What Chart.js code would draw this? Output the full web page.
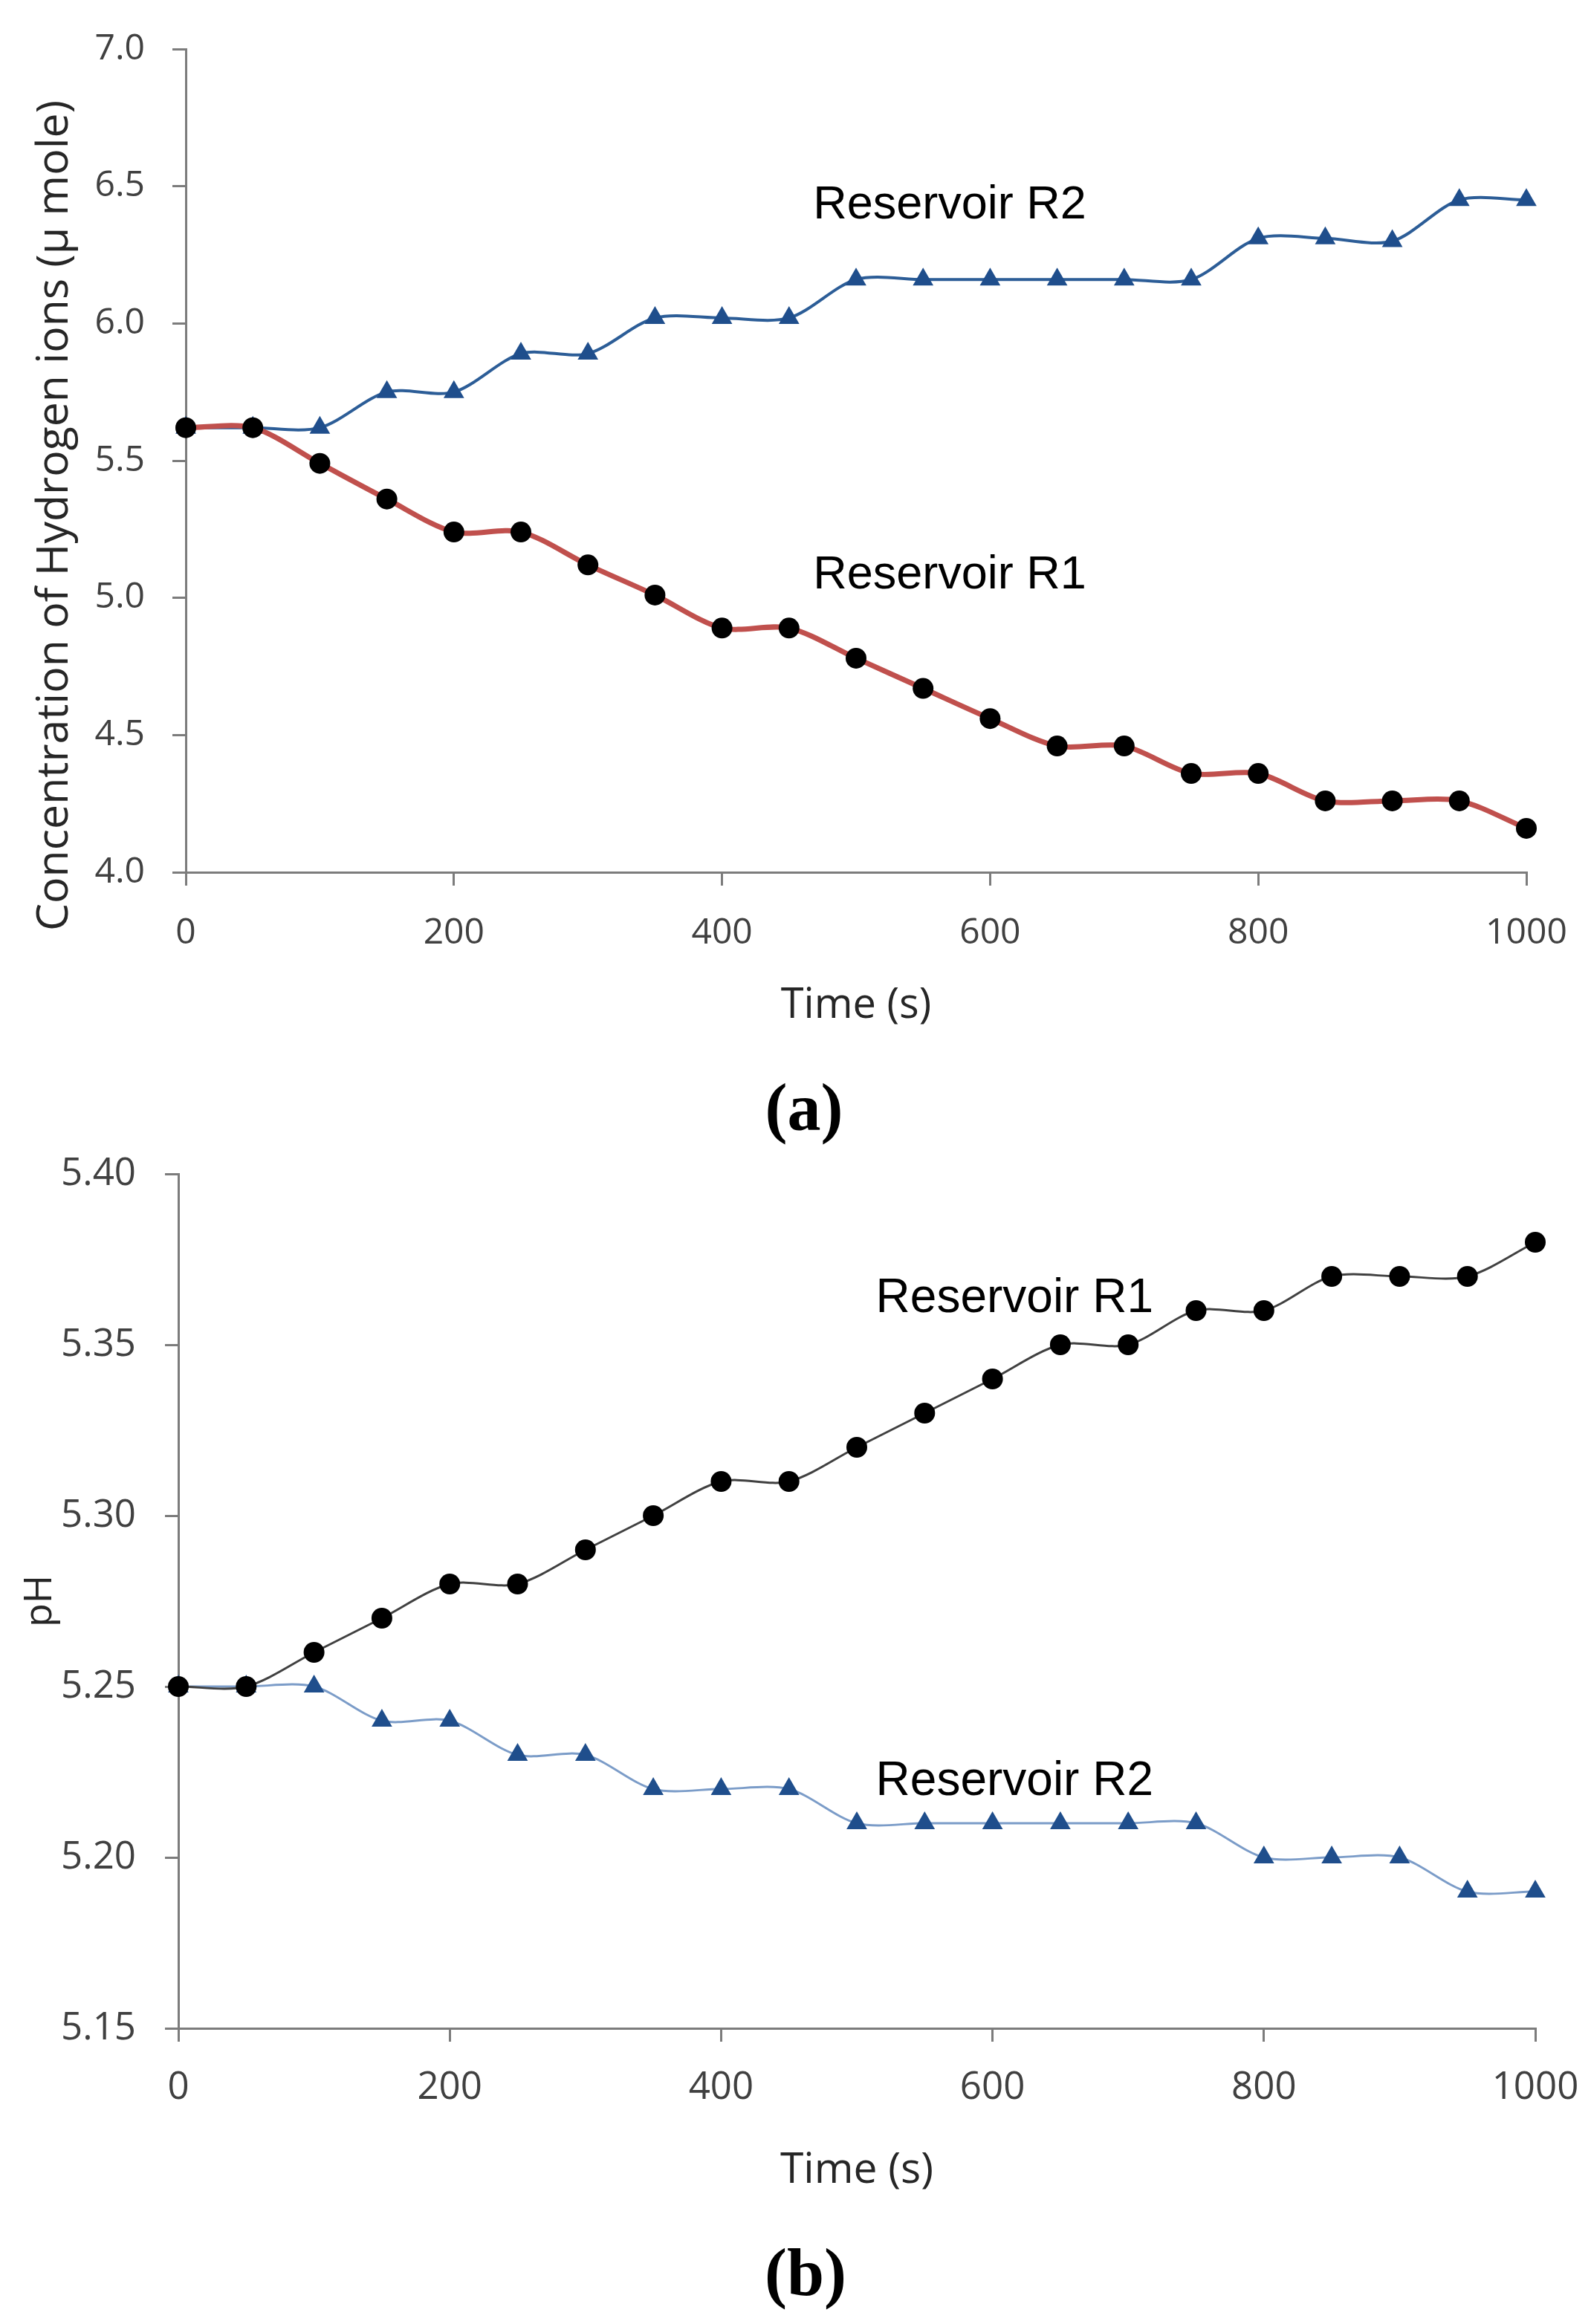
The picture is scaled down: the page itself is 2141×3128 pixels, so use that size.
<!DOCTYPE html>
<html>
<head>
<meta charset="utf-8">
<script src="https://cdn.jsdelivr.net/npm/chart.js@4/dist/chart.umd.min.js"></script>
<style>
  html, body { margin: 0; padding: 0; background: #fff; }
  body { width: 2141px; height: 3128px; position: relative; }
  canvas { position: absolute; left: 0; }
  #chartA { top: 0; }
  #chartB { top: 1440px; }
  .panel {
    position: absolute; width: 240px; margin-left: -120px; text-align: center;
    font: bold 90px "Liberation Serif", "Times New Roman", serif; line-height: 1; color: #000;
  }
</style>
</head>
<body>
<canvas id="chartA" width="2141" height="1420"></canvas>
<canvas id="chartB" width="2141" height="1560"></canvas>
<div class="panel" style="left:1082px; top:1446px">(a)</div>
<div class="panel" style="left:1084px; top:3014px">(b)</div>

<script>
// time of each sample (s)
const times = [0, 50, 100, 150, 200, 250, 300, 350, 400, 450, 500,
               550, 600, 650, 700, 750, 800, 850, 900, 950, 1000];

// (a) hydrogen ion concentration, micro mole
const hydR1 = [5.62, 5.62, 5.49, 5.36, 5.24, 5.24, 5.12, 5.01, 4.89, 4.89, 4.78,
               4.67, 4.56, 4.46, 4.46, 4.36, 4.36, 4.26, 4.26, 4.26, 4.16];
const hydR2 = [5.62, 5.62, 5.62, 5.75, 5.75, 5.89, 5.89, 6.02, 6.02, 6.02, 6.16,
               6.16, 6.16, 6.16, 6.16, 6.16, 6.31, 6.31, 6.30, 6.45, 6.45];

// (b) pH
const phR1 = [5.25, 5.25, 5.26, 5.27, 5.28, 5.28, 5.29, 5.30, 5.31, 5.31, 5.32,
              5.33, 5.34, 5.35, 5.35, 5.36, 5.36, 5.37, 5.37, 5.37, 5.38];
const phR2 = [5.25, 5.25, 5.25, 5.24, 5.24, 5.23, 5.23, 5.22, 5.22, 5.22, 5.21,
              5.21, 5.21, 5.21, 5.21, 5.21, 5.20, 5.20, 5.20, 5.19, 5.19];

const seriesNames = ['Reservoir R1', 'Reservoir R2'];

const FONT = '"Open Sans", "DejaVu Sans", sans-serif';
const AXIS = '#7c7c7c';
const pts = vals => vals.map((v, i) => ({ x: times[i], y: v }));

// in-chart labels and a free y title
const notes = {
  id: 'notes',
  afterDatasetsDraw(chart, args, opts) {
    const { ctx, scales: { x, y } } = chart;
    ctx.save();
    ctx.fillStyle = '#000';
    ctx.font = opts.font;
    ctx.textAlign = 'left';
    ctx.textBaseline = 'middle';
    (opts.items || []).forEach(n => {
      ctx.fillText(n.text, x.getPixelForValue(n.x), y.getPixelForValue(n.y));
    });
    if (opts.yTitle) {
      const t = opts.yTitle;
      ctx.translate(t.x, t.y);
      ctx.rotate(-Math.PI / 2);
      ctx.textAlign = 'center';
      ctx.fillStyle = '#262626';
      ctx.font = t.font;
      ctx.fillText(t.text, 0, 0);
    }
    ctx.restore();
  }
};

// fixed axis boxes, no extra room for overhanging end labels
function axisBase(size, width) {
  return {
    border: { display: true, color: AXIS, width: 3 },
    grid: { drawOnChartArea: false, color: AXIS, lineWidth: 3, tickLength: 18 },
    afterFit: s => {
      if (s.isHorizontal()) { s.height = size; s.paddingLeft = 0; s.paddingRight = 0; }
      else { s.width = width; s.paddingTop = 0; s.paddingBottom = 0; }
    }
  };
}

function makeChart(id, o) {
  return new Chart(document.getElementById(id), {
    type: 'line',
    data: {
      datasets: [
        {
          label: seriesNames[0],
          data: pts(o.r1),
          borderColor: o.r1Line,
          borderWidth: o.r1Width,
          backgroundColor: '#000',
          pointBackgroundColor: '#000',
          pointBorderColor: '#000',
          pointStyle: 'circle',
          pointRadius: 14,
          pointBorderWidth: 0,
          tension: 0.3,
          clip: false
        },
        {
          label: seriesNames[1],
          data: pts(o.r2),
          borderColor: o.r2Line,
          borderWidth: o.r2Width,
          backgroundColor: '#1f4e8c',
          pointBackgroundColor: '#1f4e8c',
          pointBorderColor: '#1f4e8c',
          pointStyle: 'triangle',
          pointRadius: 16,
          pointBorderWidth: 0,
          tension: 0.3,
          clip: false
        }
      ]
    },
    options: {
      responsive: false,
      devicePixelRatio: 1,
      animation: false,
      layout: { padding: o.padding },
      plugins: {
        legend: { display: false },
        tooltip: { enabled: false },
        notes: { font: o.noteFont, items: o.notes, yTitle: o.yTitle }
      },
      scales: {
        x: Object.assign(axisBase(o.xHeight, 0), {
          type: 'linear', min: 0, max: 1000,
          ticks: { stepSize: 200, padding: o.xTickPad, color: '#404040',
                   font: { family: FONT, size: o.tickSize },
                   callback: v => String(v) },
          title: { display: true, text: 'Time (s)', color: '#262626',
                   padding: { top: 0, bottom: o.xTitlePad },
                   font: { family: FONT, size: o.titleSize } }
        }),
        y: Object.assign(axisBase(0, o.yWidth), {
          min: o.yMin, max: o.yMax,
          ticks: { stepSize: o.yStep, padding: o.yTickPad, color: '#404040',
                   font: { family: FONT, size: o.tickSize },
                   callback: v => Number(v).toFixed(o.dec) },
          title: o.yTitleAxis || { display: false }
        })
      }
    },
    plugins: [notes]
  });
}

makeChart('chartA', {
  r1: hydR1, r2: hydR2,
  r1Line: '#c0504d', r1Width: 7,
  r2Line: '#2c5d97', r2Width: 4,
  padding: { top: 66, right: 87, left: 0, bottom: 0 },
  xHeight: 246, yWidth: 250,
  yMin: 4, yMax: 7, yStep: 0.5, dec: 1,
  tickSize: 48, titleSize: 56,
  xTickPad: 36, yTickPad: 37, xTitlePad: 32,
  noteFont: '63px "Liberation Sans", Arial, sans-serif',
  notes: [
    { text: seriesNames[1], x: 468, y: 6.43 },
    { text: seriesNames[0], x: 468, y: 5.08 }
  ],
  yTitle: { text: 'Concentration of Hydrogen ions (\u00b5 mole)', x: 74, y: 694,
            font: '59px ' + FONT }
});

makeChart('chartB', {
  r1: phR1, r2: phR2,
  r1Line: '#404040', r1Width: 3,
  r2Line: '#7b9cc8', r2Width: 3,
  padding: { top: 140, right: 75, left: 0, bottom: 0 },
  xHeight: 270, yWidth: 240,
  yMin: 5.15, yMax: 5.40, yStep: 0.05, dec: 2,
  tickSize: 51, titleSize: 57,
  xTickPad: 32, yTickPad: 39, xTitlePad: 44,
  noteFont: '64px "Liberation Sans", Arial, sans-serif',
  notes: [
    { text: seriesNames[0], x: 514, y: 5.3635 },
    { text: seriesNames[1], x: 514, y: 5.222 }
  ],
  yTitleAxis: { display: true, text: 'pH', color: '#262626',
                padding: { top: 23, bottom: 0 },
                font: { family: FONT, size: 52 } }
});
</script>
</body>
</html>
